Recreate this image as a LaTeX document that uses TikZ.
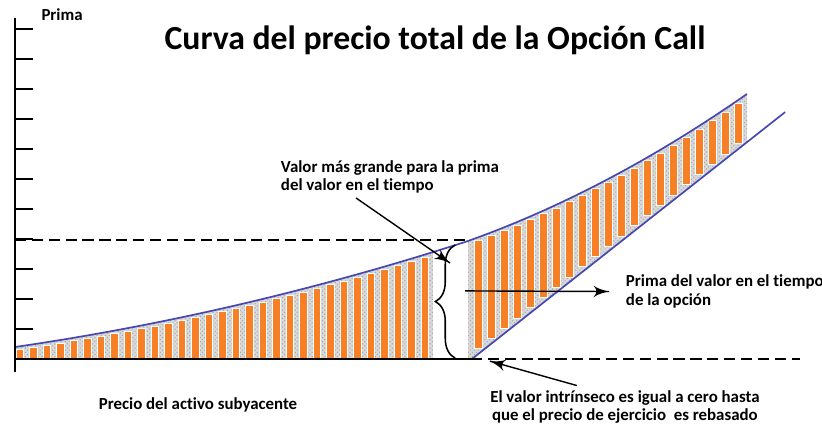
\documentclass[tikz,border=0pt]{standalone}
\usepackage{fontspec}
\setmainfont{Carlito}[Ligatures=NoCommon]
\usepackage{tikz}
\usetikzlibrary{arrows}
\usetikzlibrary{decorations.markings}
\usetikzlibrary{decorations.pathreplacing}
\usetikzlibrary{patterns}
\usetikzlibrary{positioning}
\definecolor{barorange}{RGB}{247,128,38}
\definecolor{curveblue}{RGB}{70,72,178}
\tikzset{->/.style = {decoration={markings,
                                  mark=at position 1 with {\arrow[scale=1.9]{latex'}}},
                      postaction={decorate}}}
\tikzset{declare function={lowc(\x) = 0.4 + 0.1457*\x + 0.005847*\x*\x;
                           highc(\x) = 3.933 + 0.357*(\x - 15.1) + 0.0183*(\x - 15.1)*(\x - 15.1);
                           intr(\x) = 0.788*(\x - 15.23);}}
\tikzset{axisline/.style = {line width=1.4pt},
         dashline/.style = {line width=1.1pt, dash pattern=on 8pt off 4pt},
         curve/.style = {curveblue, line width=1.2pt},
         dotfill/.style = {fill=gray!30, postaction={pattern=crosshatch dots, pattern color=gray!70}},
         obar/.style = {fill=barorange, draw=white, line width=0.4pt},
         note/.style = {font=\fontsize{12}{13}\selectfont\bfseries, align=left}}

\begin{document}
\begin{tikzpicture}[x=0.75cm, y=0.75cm]
    \useasboundingbox (-0.5, -2.167) rectangle (26.9, 11.967);

    % time value areas
    \fill[dotfill] (0, 0) -- plot[domain=0:13.93, samples=40] (\x, {lowc(\x)}) -- (13.93, 0) -- cycle;
    \fill[dotfill] (15.1, 0) -- plot[domain=15.1:24.4, samples=40] (\x, {highc(\x)}) -- (24.4, {intr(24.4)}) -- (15.23, 0) -- cycle;
    \foreach \i in {0,...,30} {
        \pgfmathsetmacro\bx{0.04 + 0.45*\i}
        \pgfmathsetmacro\bt{lowc(\bx + 0.12) - 0.1}
        \filldraw[obar] (\bx, 0.03) rectangle (\bx + 0.25, \bt);
    }
    \foreach \i in {0,...,20} {
        \pgfmathsetmacro\bx{15.32 + 0.4333*\i}
        \pgfmathsetmacro\bt{highc(\bx + 0.12) - 0.1}
        \pgfmathsetmacro\bb{max(0.03, intr(\bx + 0.25) + 0.08)}
        \filldraw[obar] (\bx, \bb) rectangle (\bx + 0.25, \bt);
    }

    % curves
    \draw[curve] plot[domain=0:15.1, samples=40] (\x, {lowc(\x)}) -- plot[domain=15.1:24.4, samples=30] (\x, {highc(\x)});
    \draw[curve] (15.23, 0) -- (25.67, 8.23);

    % axes
    \draw[axisline] (0, -0.43) -- (0, 11.37);
    \foreach \y in {1,...,11}
        \draw[axisline] (0, \y) -- (0.6, \y);
    \draw[axisline] (0, 0) -- (15.2, 0);
    \draw[dashline] (15.2, 0) -- (26.17, 0);
    \draw[dashline] (0, 3.97) -- (15.0, 3.97);

    \draw[line width=1.1pt, decorate, decoration={brace, amplitude=14pt}] (14.67, 0.03) -- (14.67, 3.8);

    \coordinate (bracetop) at (14.5, 3.2);
    \coordinate (gapmid) at (15.0, 2.27);
    \coordinate (strike) at (15.83, -0.07);

    \node[font=\fontsize{24}{28}\selectfont\bfseries] (title) at (14.0, 10.63) {Curva del precio total de la Opción Call};
    \node[note] (prima) at (1.57, 11.47) {Prima};
    \node[note, anchor=west] (maxtext) at (8.7, 6.08) {Valor más grande para la prima\\del valor en el tiempo};
    \node[note, anchor=west] (primatext) at (20.2, 2.25) {Prima del valor en el tiempo\\de la opción};
    \node[note] (activo) at (6.1, -1.53) {Precio del activo subyacente};
    \node[note, align=center] (cerotext) at (20.33, -1.6) {El valor intrínseco es igual a cero hasta\\que el precio de ejercicio\ \ es rebasado};

    \draw[->, line width=1pt] ([xshift=2cm]maxtext.south west) -- (bracetop);
    \draw[->, line width=1pt] (gapmid) -- ([xshift=-0.3cm]primatext.west);
    \draw[->, line width=1pt] ([xshift=-1.2cm]cerotext.north) -- (strike);
\end{tikzpicture}
\end{document}
